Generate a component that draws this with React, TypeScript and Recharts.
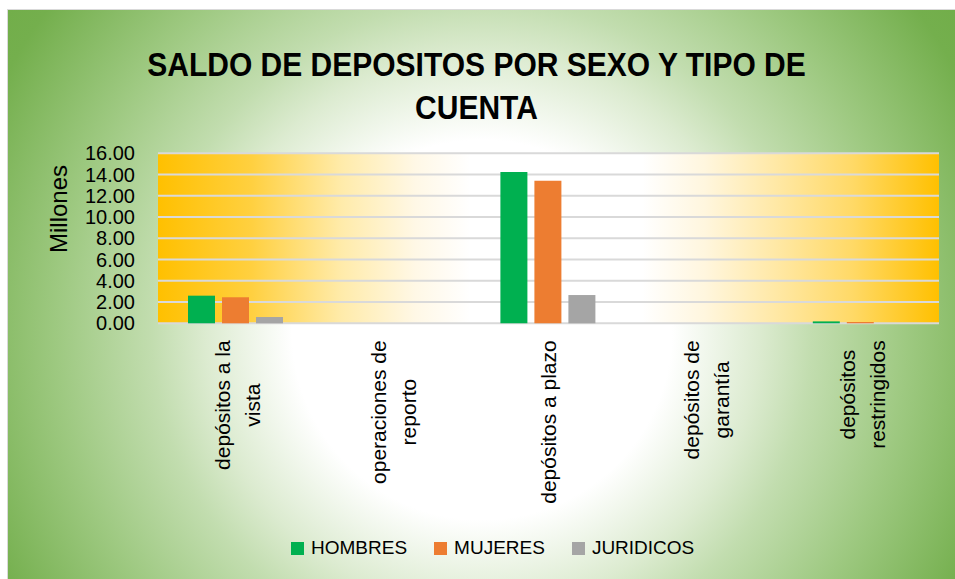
import React from 'react';
import { BarChart, Bar, XAxis, YAxis, CartesianGrid, Legend } from 'recharts';

const categories = [
  'depósitos a la vista',
  'operaciones de reporto',
  'depósitos a plazo',
  'depósitos de garantía',
  'depósitos restringidos',
];
const categoryLines = [
  ['depósitos a la', 'vista'],
  ['operaciones de', 'reporto'],
  ['depósitos a plazo'],
  ['depósitos de', 'garantía'],
  ['depósitos', 'restringidos'],
];
const hombres = [2.6, 0, 14.24, 0, 0.18];
const mujeres = [2.45, 0, 13.42, 0, 0.12];
const juridicos = [0.59, 0, 2.66, 0, 0];
const yTicks = [0, 2, 4, 6, 8, 10, 12, 14, 16];
const seriesNames = ['HOMBRES', 'MUJERES', 'JURIDICOS'];
const seriesColors = ['#00B050', '#ED7D31', '#A5A5A5'];
const titleLines = ['SALDO DE DEPOSITOS POR SEXO Y TIPO DE', 'CUENTA'];
const yAxisTitle = 'Millones';

const data = categories.map((c, i) => ({
  name: c,
  HOMBRES: hombres[i],
  MUJERES: mujeres[i],
  JURIDICOS: juridicos[i],
}));

const FONT = '"Liberation Sans", Arial, sans-serif';
const W = 947;
const H = 569;

let ctx: CanvasRenderingContext2D | null = null;
function measure(text: string, size: number): number {
  if (!ctx) ctx = document.createElement('canvas').getContext('2d');
  if (!ctx) return text.length * size * 0.5;
  ctx.font = `${size}px ${FONT}`;
  return ctx.measureText(text).width;
}

const XTick = (props: any) => {
  const { x, y, payload } = props;
  const idx = categories.indexOf(payload.value);
  const lines = idx >= 0 ? categoryLines[idx] : [String(payload.value)];
  const size = 21;
  const maxW = Math.max(...lines.map((l) => measure(l, size)));
  const yc = y + maxW / 2;
  const offs = lines.length === 2 ? [-13.5, 16.5] : [0];
  return (
    <g>
      {lines.map((l, i) => {
        const lx = x + offs[i];
        return (
          <text
            key={i}
            x={lx}
            y={yc}
            transform={`rotate(-90 ${lx} ${yc})`}
            textAnchor="middle"
            dominantBaseline="central"
            fontSize={size}
            fontFamily={FONT}
            fill="#000"
          >
            {l}
          </text>
        );
      })}
    </g>
  );
};

const YTitle = (props: any) => {
  const vb = props.viewBox || { x: 0, y: 143.3 };
  const tx = vb.x + 50;
  const ty = vb.y + 55.7;
  return (
    <text
      x={tx}
      y={ty}
      transform={`rotate(-90 ${tx} ${ty})`}
      textAnchor="middle"
      dominantBaseline="central"
      fontSize={24}
      fontFamily={FONT}
      fill="#000"
    >
      {yAxisTitle}
    </text>
  );
};

const renderLegend = () => (
  <div
    style={{
      display: 'flex',
      alignItems: 'center',
      fontFamily: FONT,
      fontSize: 19,
      lineHeight: '22px',
      color: '#000',
      whiteSpace: 'nowrap',
    }}
  >
    {seriesNames.map((n, i) => (
      <div key={n} style={{ display: 'flex', alignItems: 'center', marginRight: i < seriesNames.length - 1 ? 27 : 0 }}>
        <span style={{ display: 'inline-block', width: 13, height: 13, background: seriesColors[i], marginRight: 7 }} />
        <span>{n}</span>
      </div>
    ))}
  </div>
);

const plotStops = [
  [0, '#FFC000'],
  [0.12, '#FFD040'],
  [0.235, '#FFEBAA'],
  [0.33, '#FFF8E6'],
  [0.4, '#FFFFFF'],
  [0.62, '#FFFFFF'],
  [0.7, '#FFF6DE'],
  [0.8, '#FFE7A0'],
  [0.89, '#FFD966'],
  [1, '#FFC000'],
];

const bgGradient =
  'radial-gradient(circle 600px at 474px 320px, #ffffff 0px, #ffffff 190px, #dcebd0 277px, #c2ddaf 330px, #9ec981 425px, #74af4d 540px, #70ad47 600px)';

export default function App() {
  return (
    <div
      style={{
        position: 'absolute',
        left: 7,
        top: 9,
        width: W,
        height: H,
        borderTop: '1px solid #D9D9D9',
        borderLeft: '1px solid #D9D9D9',
        overflow: 'hidden',
        background: bgGradient,
      }}
    >
      <svg width={0} height={0} style={{ position: 'absolute', left: 0, top: 0 }}>
        <defs>
          <linearGradient id="plotGrad" x1="0" y1="0" x2="1" y2="0">
            {plotStops.map(([o, c], i) => (
              <stop key={i} offset={o as number} stopColor={c as string} />
            ))}
          </linearGradient>
        </defs>
      </svg>
      <div style={{ position: 'absolute', left: 0, top: 0 }}>
        <BarChart
          width={W}
          height={H}
          data={data}
          margin={{ top: 143.3, right: 16, left: 0, bottom: 75.7 }}
          barCategoryGap={30}
          barGap={7}
        >
          <CartesianGrid vertical={false} stroke="#D9D9D9" strokeWidth={2} fill="url(#plotGrad)" fillOpacity={1} />
          <XAxis
            dataKey="name"
            height={180}
            axisLine={false}
            tickLine={false}
            tickSize={6}
            tickMargin={11}
            interval={0}
            tick={<XTick />}
          />
          <YAxis
            width={150}
            domain={[0, 16]}
            ticks={yTicks}
            interval={0}
            axisLine={false}
            tickLine={false}
            tickSize={6}
            tickMargin={17}
            tickFormatter={(v: number) => v.toFixed(2)}
            tick={{ fontSize: 20, fontFamily: FONT, fill: '#000' }}
            label={<YTitle />}
          />
          <Legend
            layout="horizontal"
            verticalAlign="middle"
            align="center"
            content={renderLegend}
            wrapperStyle={{ position: 'absolute', top: 527.2, left: 283, width: 'auto', height: 22 }}
          />
          {seriesNames.map((n, i) => (
            <Bar key={n} dataKey={n} fill={seriesColors[i]} isAnimationActive={false} />
          ))}
        </BarChart>
      </div>
      <div
        style={{
          position: 'absolute',
          left: 0,
          top: 34,
          width: 937,
          textAlign: 'center',
          fontFamily: FONT,
          fontWeight: 'bold',
          fontSize: 30,
          lineHeight: '43px',
          color: '#000',
          pointerEvents: 'none',
        }}
      >
        {titleLines.map((t) => (
          <div key={t} style={{ transform: 'scaleY(1.08)', transformOrigin: '50% 70%' }}>
            {t}
          </div>
        ))}
      </div>
    </div>
  );
}
